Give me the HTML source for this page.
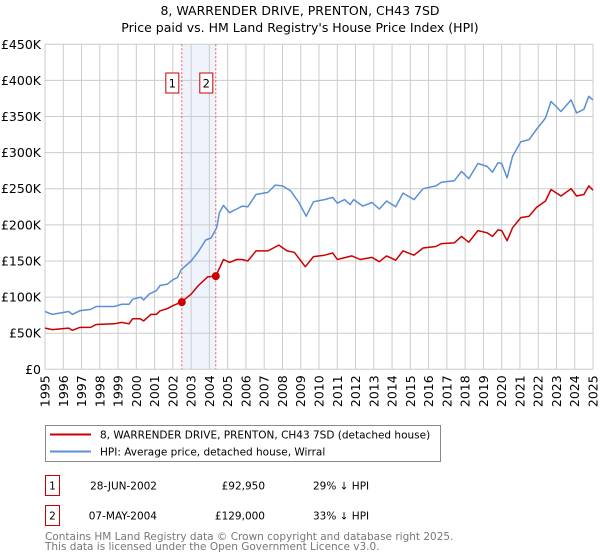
<!DOCTYPE html>
<html><head><meta charset="utf-8">
<style>
body{margin:0;background:#fff;width:600px;height:560px;overflow:hidden;font-family:"DejaVu Sans","Liberation Sans",sans-serif;}
svg{position:absolute;left:0;top:0}
</style></head><body>
<svg width="600" height="560" viewBox="0 0 600 560">
<g id="root"></g>
</svg>
<script>
const hpiYears=[1995,1995.4,1996.3,1996.5,1996.9,1997.5,1997.8,1998.8,1999.2,1999.6,1999.8,2000.25,2000.4,2000.7,2001.1,2001.3,2001.7,2002.0,2002.25,2002.46,2003.0,2003.4,2003.8,2004.1,2004.4,2004.55,2004.77,2005.1,2005.5,2005.8,2006.1,2006.55,2007.2,2007.6,2008.0,2008.45,2008.9,2009.3,2009.7,2010.3,2010.75,2011.0,2011.4,2011.7,2011.9,2012.4,2012.9,2013.3,2013.7,2014.2,2014.6,2015.2,2015.7,2016.4,2016.7,2017.4,2017.8,2018.2,2018.7,2019.2,2019.5,2019.8,2020.0,2020.3,2020.6,2021.05,2021.5,2021.9,2022.4,2022.7,2023.25,2023.8,2024.1,2024.5,2024.77,2025.0];
const hpiValues=[80,76,80,76,81,83,87,87,90,90,97,100,96,104,109,116,118,124,127,138,150,163,179,182,196,217,227,217,222,226,225,242,245,255,254,247,231,212,232,235,238,230,235,228,235,226,231,222,233,225,244,235,250,254,259,261,274,264,285,281,273,286,285,265,295,315,318,332,348,371,357,373,355,360,378,373];
const priceYears=[1995,1995.4,1996.3,1996.5,1996.9,1997.5,1997.8,1998.8,1999.2,1999.6,1999.8,2000.2,2000.4,2000.8,2001.1,2001.3,2001.7,2002.0,2002.46,2003.0,2003.4,2003.9,2004.35,2004.77,2005.1,2005.5,2005.8,2006.1,2006.55,2007.2,2007.8,2008.25,2008.65,2009.25,2009.7,2010.3,2010.75,2011.0,2011.8,2012.25,2012.9,2013.3,2013.7,2014.2,2014.6,2015.2,2015.7,2016.4,2016.7,2017.4,2017.8,2018.2,2018.7,2019.2,2019.5,2019.8,2020.0,2020.3,2020.6,2021.05,2021.5,2021.9,2022.4,2022.7,2023.25,2023.8,2024.1,2024.5,2024.77,2025.0];
const priceValues=[57,55,57,54,58,58,62,63,65,63,70,70,67,76,76,81,84,88,93,104,116,128,129,152,148,152,152,150,164,164,172,164,162,142,156,158,161,152,157,152,155,149,157,151,164,158,168,170,174,175,184,176,192,189,184,193,192,178,196,210,212,224,233,249,240,250,240,242,254,248];
const saleYears=[2002.49,2004.35];
const saleValues=[92.95,129];
const saleLabels=["1","2"];
const yTicks=[0,50,100,150,200,250,300,350,400,450];
const yTickLabels=["£0","£50K","£100K","£150K","£200K","£250K","£300K","£350K","£400K","£450K"];
const xTicks=[1995,1996,1997,1998,1999,2000,2001,2002,2003,2004,2005,2006,2007,2008,2009,2010,2011,2012,2013,2014,2015,2016,2017,2018,2019,2020,2021,2022,2023,2024,2025];

const L=45,R=593,T=44.3,B=369.3;
const xs=y=>L+(y-1995)/30*(R-L);
const ys=v=>B-v/450*(B-T);
const NS="http://www.w3.org/2000/svg";
const root=document.getElementById('root');
function mk(tag,attrs,parent){const e=document.createElementNS(NS,tag);for(const k in attrs)e.setAttribute(k,attrs[k]);(parent||root).appendChild(e);return e;}

let t=mk('text',{x:300,y:15,'text-anchor':'middle','font-size':12.5,fill:'#000'});t.textContent="8, WARRENDER DRIVE, PRENTON, CH43 7SD";


t=mk('text',{x:300,y:32,'text-anchor':'middle','font-size':12.5,fill:'#000'});t.textContent="Price paid vs. HM Land Registry's House Price Index (HPI)";



let band=mk('rect',{x:xs(saleYears[0]),y:T,width:xs(saleYears[1])-xs(saleYears[0]),height:B-T,fill:'#eef3fc'});



yTicks.forEach((v,i)=>{
  const g=mk('line',{x1:L,x2:R,y1:ys(v),y2:ys(v),stroke:'#cccccc','stroke-width':1});
  
  
  const lb=mk('text',{x:L-4,y:ys(v)+4.5,'text-anchor':'end','font-size':12.5,fill:'#000'});lb.textContent=yTickLabels[i];
  
  
});
xTicks.forEach(y=>{
  const g=mk('line',{x1:xs(y),x2:xs(y),y1:T,y2:B,stroke:'#cccccc','stroke-width':1});
  
  
  const lb=mk('text',{x:0,y:0,'text-anchor':'end','font-size':12.5,fill:'#000',transform:`translate(${xs(y)+4.5},${B+6}) rotate(-90)`});lb.textContent=y;
  
  
});

saleYears.forEach((y,i)=>{
  const ln=mk('line',{x1:xs(y),x2:xs(y),y1:T,y2:B,stroke:'#ee5555','stroke-width':1,'stroke-dasharray':'2,2'});
  
  
  const bx=mk('rect',{x:xs(y)-16,y:73,width:13,height:20,fill:'#fff',stroke:'#cc0000','stroke-width':1});
  
  
  const tx=mk('text',{x:xs(y)-9.5,y:87.5,'text-anchor':'middle','font-size':11.5,fill:'#000'});tx.textContent=saleLabels[i];
  
  
});

function path(xa,va,color,name){
  const d=xa.map((y,i)=>(i?'L':'M')+xs(y).toFixed(1)+','+ys(va[i]).toFixed(1)).join('');
  const p=mk('path',{d:d,fill:'none',stroke:color,'stroke-width':1.5,'stroke-linejoin':'round'});
  
  
}
path(hpiYears,hpiValues,'#5b8fd6','hpi-line');
path(priceYears,priceValues,'#cc0000','price-line');
saleYears.forEach((y,i)=>{
  const c=mk('circle',{cx:xs(y),cy:ys(saleValues[i]),r:4,fill:'#cc0000'});
  
  
});

const FS=10.5;
const lg=mk('g',{});


mk('rect',{x:45.5,y:425.5,width:395,height:36,fill:'#fff',stroke:'#888','stroke-width':1},lg);
let l1=mk('line',{x1:50,x2:91,y1:434.5,y2:434.5,stroke:'#cc0000','stroke-width':2},lg);


t=mk('text',{x:100,y:438.5,'font-size':FS,fill:'#000'},lg);t.textContent="8, WARRENDER DRIVE, PRENTON, CH43 7SD (detached house)";


let l2=mk('line',{x1:50,x2:91,y1:451.5,y2:451.5,stroke:'#5b8fd6','stroke-width':2},lg);


t=mk('text',{x:100,y:455.5,'font-size':FS,fill:'#000'},lg);t.textContent="HPI: Average price, detached house, Wirral";



const rows=[["1","28-JUN-2002","£92,950","29% ↓ HPI"],["2","07-MAY-2004","£129,000","33% ↓ HPI"]];
rows.forEach((r,i)=>{
  const y0=475.5+i*30;
  const b=mk('rect',{x:45.5,y:y0,width:14,height:20,fill:'#fff',stroke:'#cc0000','stroke-width':1});
  
  
  let tx=mk('text',{x:52.5,y:y0+14,'text-anchor':'middle','font-size':FS,fill:'#000'});tx.textContent=r[0];
  
  
  tx=mk('text',{x:157,y:y0+14,'text-anchor':'end','font-size':FS,fill:'#000'});tx.textContent=r[1];
  
  
  tx=mk('text',{x:265,y:y0+14,'text-anchor':'end','font-size':FS,fill:'#000'});tx.textContent=r[2];
  
  
  tx=mk('text',{x:313,y:y0+14,'font-size':FS,fill:'#000'});tx.textContent=r[3];
  
  
});
t=mk('text',{x:45,y:540,'font-size':FS,fill:'#777'});t.textContent="Contains HM Land Registry data © Crown copyright and database right 2025.";


t=mk('text',{x:45,y:550,'font-size':FS,fill:'#777'});t.textContent="This data is licensed under the Open Government Licence v3.0.";


</script>
</body></html>
